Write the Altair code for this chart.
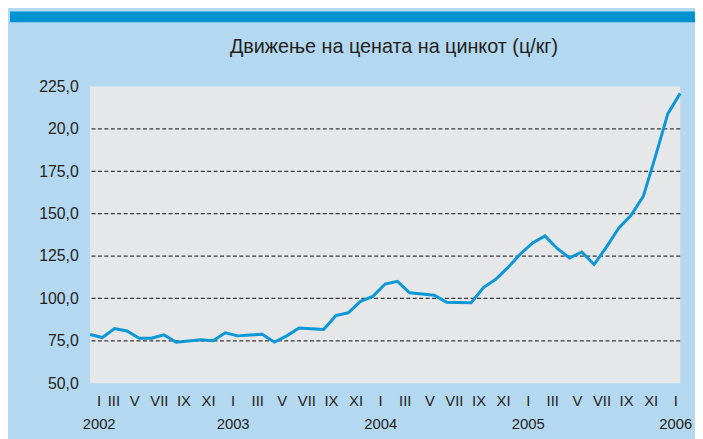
import altair as alt
import pandas as pd

# Monthly zinc price, index 0 = January 2002 ... 48 = January 2006
months = list(range(49))
price = [78.7, 76.9, 82.2, 80.8, 76.5, 76.5, 78.5, 74.2, 74.9, 75.6, 75.0, 79.7,
         77.9, 78.4, 78.8, 74.2, 77.9, 82.6, 82.1, 81.6, 89.9, 91.5, 98.3, 101.2,
         108.5, 110.1, 103.3, 102.6, 101.9, 97.7, 97.6, 97.5, 106.4, 111.3, 118.3, 126.2,
         132.7, 136.9, 129.5, 123.9, 127.4, 120.0, 130.3, 141.4, 149.1, 160.2, 184.1, 209.0, 221.0]

roman = ["I", "III", "V", "VII", "IX", "XI"]
years = ["2002", "2003", "2004", "2005", "2006"]
x_tick_values = [1.1, 2.3] + list(range(4, 49, 2))

y_tick_values = [50, 75, 100, 125, 150, 175, 200, 225]
y_tick_labels = ["50,0", "75,0", "100,0", "125,0", "150,0", "175,0", "20,0", "225,0"]
grid_values = [75, 100, 125, 150, 175, 200]

title_text = "Движење на цената на цинкот (ц/кг)"

FONT = "Liberation Sans Narrow, Arial Narrow, Liberation Sans, Arial, sans-serif"
TXT = "#231f20"

df = pd.DataFrame({"m": months, "price": price})
grid_df = pd.DataFrame({"g": grid_values})
band_df = pd.DataFrame({"k": [0]})

roman_js = "[" + ",".join(f"'{r}'" for r in roman) + "]"
years_js = "[" + ",".join(f"'{y}'" for y in years) + "]"
ylab_js = "[" + ",".join(f"'{l}'" for l in y_tick_labels) + "]"

x_label_expr = (
    f"floor(datum.value/2)%6==0 ? [{roman_js}[0], {years_js}[floor(datum.value/12)]]"
    f" : {roman_js}[floor(datum.value/2)%6]"
)
y_label_expr = f"{ylab_js}[round((datum.value-50)/25)]"

x_enc = alt.X(
    "m:Q",
    scale=alt.Scale(domain=[0, 48], nice=False, zero=False),
    axis=alt.Axis(
        values=x_tick_values, labelExpr=x_label_expr, title=None, ticks=False,
        domain=False, grid=False, labelOffset=-5, labelPadding=11,
        labelLineHeight=23, labelFont=FONT, labelFontSize=15, labelColor=TXT,
        labelOverlap=False, labelFlush=False, labelBound=False,
    ),
)
y_enc = alt.Y(
    "price:Q",
    scale=alt.Scale(domain=[50, 225], nice=False, zero=False),
    axis=alt.Axis(
        values=y_tick_values, labelExpr=y_label_expr, title=None, ticks=False,
        domain=False, grid=False, labelPadding=12, labelFont=FONT,
        labelFontSize=16, labelColor=TXT, labelOverlap=False,
    ),
)

line = alt.Chart(df).mark_line(color="#0b98d5", strokeWidth=3, strokeJoin="miter").encode(
    x=x_enc, y=y_enc
)

grid = alt.Chart(grid_df).mark_rule(
    color="#3a3a3a", strokeWidth=1.3, strokeDash=[4, 2.5]
).encode(y=alt.Y("g:Q", scale=alt.Scale(domain=[50, 225], nice=False, zero=False)))

band = alt.Chart(band_df).mark_rect(color="#0093d0").encode(
    x=alt.value(-81), x2=alt.value(620), y=alt.value(-76), y2=alt.value(-65)
)

chart = (
    alt.layer(band, grid, line)
    .properties(
        width=597,
        height=300,
        padding={"left": 83, "top": 77, "right": 15, "bottom": 54},
        autosize=alt.AutoSizeParams(type="none"),
        background="#b3d8f0",
        title=alt.TitleParams(
            title_text, font=FONT, fontSize=20, fontWeight="normal", color=TXT,
            anchor="middle", offset=0, dy=66, dx=9, frame="group", baseline="bottom",
        ),
    )
    .configure_view(fill="#e6e7e9", stroke=None)
)

chart.save("out.html", embed_options={"renderer": "svg", "actions": False})
